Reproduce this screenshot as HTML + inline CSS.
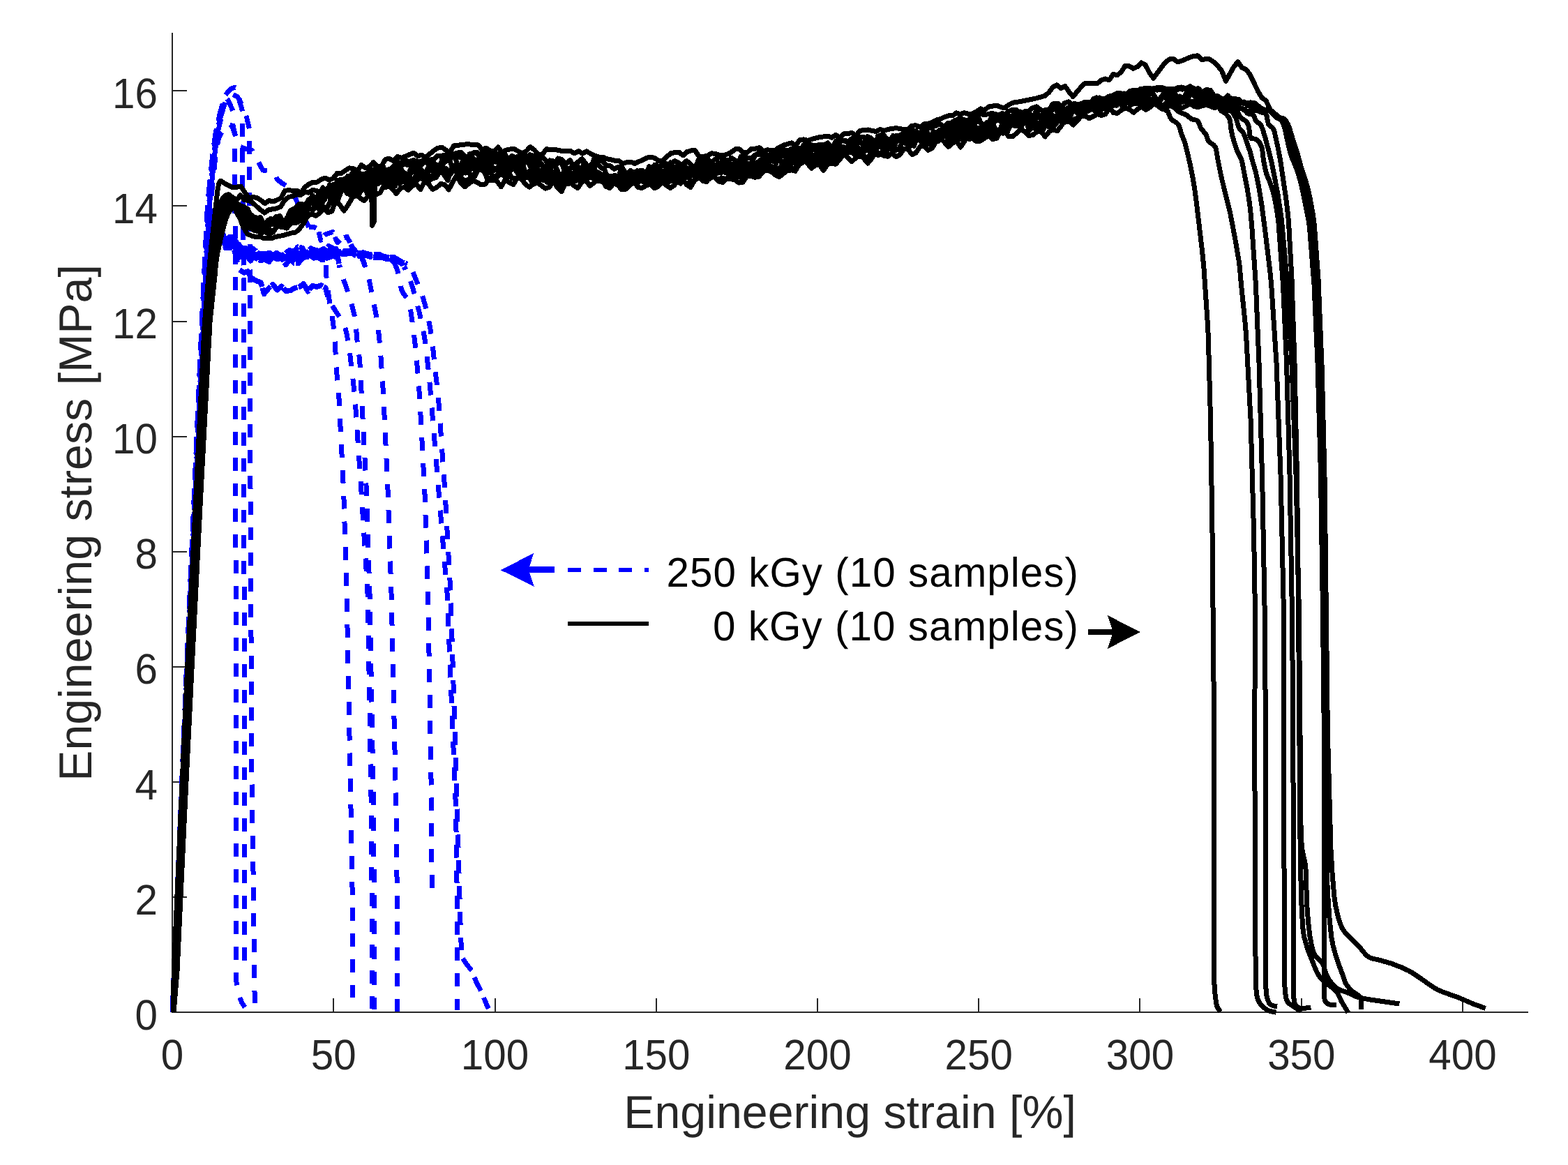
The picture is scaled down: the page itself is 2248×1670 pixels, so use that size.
<!DOCTYPE html>
<html lang="en"><head><meta charset="utf-8"><title>Engineering stress vs. engineering strain</title>
<style>html,body{margin:0;padding:0;background:#fff}body{width:2248px;height:1670px;overflow:hidden}svg{shape-rendering:crispEdges;text-rendering:geometricPrecision}</style>
</head><body>
<svg width="2248" height="1670" viewBox="0 0 2248 1670" style="display:block">
<rect width="2248" height="1670" fill="#fff"/>
<g fill="#262626">
<rect x="246" y="47" width="2" height="1405"/>
<rect x="246" y="1450" width="1945" height="2"/>
<rect x="246" y="1431" width="2" height="20"/>
<rect x="477" y="1431" width="2" height="20"/>
<rect x="709" y="1431" width="2" height="20"/>
<rect x="940" y="1431" width="2" height="20"/>
<rect x="1171" y="1431" width="2" height="20"/>
<rect x="1402" y="1431" width="2" height="20"/>
<rect x="1633" y="1431" width="2" height="20"/>
<rect x="1865" y="1431" width="2" height="20"/>
<rect x="2096" y="1431" width="2" height="20"/>
<rect x="247" y="1450" width="21" height="2"/>
<rect x="247" y="1285" width="21" height="2"/>
<rect x="247" y="1120" width="21" height="2"/>
<rect x="247" y="955" width="21" height="2"/>
<rect x="247" y="790" width="21" height="2"/>
<rect x="247" y="625" width="21" height="2"/>
<rect x="247" y="460" width="21" height="2"/>
<rect x="247" y="294" width="21" height="2"/>
<rect x="247" y="129" width="21" height="2"/>
</g>
<g fill="none" stroke="#0000ff" stroke-width="7" stroke-linejoin="round" stroke-linecap="butt" stroke-dasharray="18.9 18.0">
<path stroke-dashoffset="12.0" d="M247.0 1451.0 L268.1 956.0 L290.5 460.7 L298.9 293.6 L309.5 192.0 L315.0 165.0 L320.0 148.0 L324.5 140.5 L327.8 144.8 L334.5 160.5 L333.5 177.5 L338.0 196.8 L336.3 214.0 L337.7 400.0 L338.5 1400.0 L339.5 1415.0 L343.0 1428.0 L346.3 1436.4 L351.0 1444.0"/>
<path stroke-dashoffset="9.8" d="M247.0 1451.0 L267.5 956.0 L289.3 460.7 L297.5 293.6 L304.8 221.0 L309.0 190.8 L315.7 160.5 L323.0 136.3 L330.8 127.3 L337.0 125.3 L341.7 128.0 L343.5 136.0 L343.0 143.6 L349.0 164.0 L347.2 178.7 L347.2 235.0 L349.7 400.0 L350.4 1377.0"/>
<path stroke-dashoffset="2.8" d="M247.0 1451.0 L268.7 956.0 L291.7 460.7 L300.3 293.6 L307.8 221.0 L311.5 192.0 L317.0 166.0 L322.0 149.0 L327.0 138.5 L332.0 134.5 L340.5 138.7 L347.0 150.0 L353.8 169.0 L358.0 187.0 L357.5 205.0 L357.5 262.0 L358.7 400.0 L359.0 700.0 L361.0 1124.0 L362.9 1240.0 L365.2 1437.7"/>
<path stroke-dashoffset="9.0" d="M247.0 1451.0 L269.3 956.0 L292.9 460.7 L301.7 293.6 L309.3 221.0 L313.0 200.0 L317.5 190.0 L321.0 187.0 L328.4 177.5 L333.0 181.0 L341.7 209.0 L352.6 213.8 L361.0 215.0 L376.8 244.0 L385.0 245.0 L392.6 246.5 L397.4 257.3 L405.0 263.0 L413.0 268.2 L424.0 285.0 L434.0 308.0 L442.8 325.6"/>
<path stroke-dashoffset="21.4" d="M584.0 377.0 L587.7 381.1 L589.8 384.5 L603.5 418.6 L606.8 428.1 L609.4 436.8 L613.5 453.8 L616.9 470.9 L620.4 496.5 L623.9 530.7 L627.2 557.6 L628.8 575.2 L638.0 705.0 L646.0 850.0 L655.3 1151.9 L660.4 1337.1 L661.5 1362.0"/>
<path stroke-dashoffset="6.2" d="M247.0 1451.0 L269.5 956.0 L293.3 460.7 L300.3 330.0 L304.3 318.0 L309.3 322.0 L314.3 333.0 L324.3 358.0"/>
<path stroke-dashoffset="25.4" d="M466.7 368.3 L467.7 393.2 L469.3 410.9 L473.0 436.0 L477.4 461.9 L479.5 480.3 L483.2 539.9 L484.3 552.0 L485.0 555.9 L485.8 567.4 L492.7 705.0 L497.2 858.1 L503.2 1168.5 L505.5 1300.0 L505.9 1430.7"/>
<path stroke-dashoffset="32.8" d="M247.0 1451.0 L270.3 956.0 L294.9 460.7 L302.1 330.0 L306.1 318.0 L311.1 322.0 L316.1 333.0 L336.0 360.0 L343.4 387.0"/>
<path stroke-dashoffset="22.3" d="M470.0 425.0 L475.2 436.7 L489.7 458.9 L492.0 462.7 L494.0 467.4 L495.8 473.3 L497.3 479.9 L501.2 503.4 L507.6 557.6 L509.2 575.2 L518.0 705.0 L526.6 841.3 L527.3 858.1 L532.3 1160.0 L534.0 1447.0"/>
<path stroke-dashoffset="11.1" d="M247.0 1451.0 L269.9 956.0 L294.1 460.7 L301.2 330.0 L305.2 318.0 L310.2 322.0 L315.2 333.0 L325.2 358.0"/>
<path stroke-dashoffset="19.4" d="M487.2 383.7 L490.6 395.7 L496.8 412.6 L504.1 436.1 L506.5 445.0 L508.5 453.8 L509.8 462.3 L512.0 487.9 L515.3 513.3 L516.8 531.3 L518.0 559.7 L525.0 695.9 L530.0 850.0 L535.4 1152.0 L536.5 1300.0 L537.0 1447.0"/>
<path stroke-dashoffset="19.2" d="M247.0 1451.0 L270.7 956.0 L295.7 460.7 L303.0 330.0 L307.0 318.0 L312.0 322.0 L317.0 333.0 L327.0 358.0"/>
<path stroke-dashoffset="15.9" d="M523.0 380.3 L526.0 387.8 L527.3 392.3 L530.1 405.3 L538.6 448.2 L541.5 465.8 L543.5 482.8 L545.2 500.2 L549.5 563.1 L555.8 696.1 L561.0 850.0 L567.9 1160.0 L569.5 1300.0 L570.0 1450.0"/>
<path stroke-dashoffset="6.1" d="M247.0 1451.0 L271.1 956.0 L296.5 460.7 L303.9 330.0 L307.9 318.0 L312.9 322.0 L317.9 333.0 L327.9 358.0"/>
<path stroke-dashoffset="0.6" d="M565.0 375.0 L569.4 386.8 L571.0 392.0 L574.4 410.5 L576.0 416.2 L578.3 420.7 L584.0 428.2 L586.3 433.3 L588.0 439.9 L592.6 472.2 L595.7 498.2 L599.1 535.8 L601.7 570.0 L608.9 705.0 L613.6 850.0 L618.6 1151.8 L619.2 1274.0"/>
<path stroke-dashoffset="26.6" d="M247.0 1451.0 L271.5 956.0 L297.4 460.7 L304.8 330.0 L308.8 318.0 L313.8 322.0 L318.8 333.0 L328.8 358.0"/>
<path stroke-dashoffset="17.3" d="M581.0 385.0 L587.3 399.6 L589.7 406.0 L594.2 421.4 L601.0 446.9 L606.4 471.6 L609.3 488.0 L610.5 496.6 L614.5 532.8 L617.0 559.7 L641.0 850.0 L653.6 1160.0 L655.5 1300.0 L656.0 1448.0"/>
<path stroke-dashoffset="5.0" d="M247.0 1451.0 L267.5 956.0 L289.3 460.7 L297.5 293.6 L304.8 221.0 L309.0 190.8 L315.7 160.5 L323.0 136.3 L330.8 127.3"/>
<path stroke-dashoffset="11.1" d="M247.0 1451.0 L267.9 956.0 L290.1 460.7 L298.4 293.6 L305.8 221.0 L309.8 191.0 L316.0 163.0 L322.5 142.0"/>
<path stroke-dashoffset="17.3" d="M247.0 1451.0 L268.3 956.0 L290.9 460.7 L299.4 293.6 L306.8 221.0 L310.5 192.0 L316.5 166.0 L321.0 150.0"/>
<path stroke-dashoffset="23.4" d="M247.0 1451.0 L268.7 956.0 L291.7 460.7 L300.3 293.6 L307.8 221.0 L311.5 192.0 L317.0 170.0"/>
<path stroke-dashoffset="29.6" d="M247.0 1451.0 L269.1 956.0 L292.5 460.7 L300.9 300.0"/>
<path stroke-dashoffset="35.8" d="M247.0 1451.0 L269.5 956.0 L293.3 460.7 L300.3 330.0"/>
</g>
<g fill="none" stroke="#0000ff" stroke-width="7" stroke-linejoin="round" stroke-linecap="butt" stroke-dasharray="14 7">
<path stroke-dashoffset="3.0" d="M442.8 325.6 L449.0 325.0 L456.4 329.0 L459.8 344.4 L466.7 335.9 L477.0 332.5 L483.8 347.8 L490.0 342.0 L497.4 339.3 L503.0 350.0"/>
</g>
<g fill="none" stroke="#0000ff" stroke-width="7" stroke-linejoin="round" stroke-linecap="butt" stroke-dasharray="21.5 10.5">
<path stroke-dashoffset="0.0" d="M663.5 1374.0 L670.0 1383.5 L676.8 1392.0 L683.0 1408.0 L689.0 1419.4 L700.2 1446.0"/>
</g>
<g fill="none" stroke="#0000ff" stroke-width="7.6" stroke-linejoin="round" stroke-linecap="butt" stroke-dasharray="23 1.6">
<path stroke-dashoffset="8.4" d="M503.0 350.0 L507.6 359.9 L514.0 363.6 L520.4 362.1 L533.1 365.6 L539.4 365.0 L545.8 369.7 L552.2 368.6 L558.5 368.4 L564.9 368.9 L577.6 376.6 L584.0 378.4"/>
<path stroke-dashoffset="15.3" d="M324.3 358.0 L328.9 340.0 L334.9 346.3 L341.0 348.1 L347.1 359.3 L353.1 364.6 L359.2 373.8 L365.2 365.9 L371.3 368.9 L377.3 365.4 L383.4 366.2 L389.4 365.1 L395.5 370.4 L401.5 366.1 L407.6 369.6 L413.6 365.4 L419.7 364.3 L425.7 361.5 L431.8 369.3 L443.9 362.8 L450.0 369.9 L456.0 367.6 L462.1 364.0 L466.7 368.3"/>
<path stroke-dashoffset="2.1" d="M343.4 387.0 L350.0 391.0 L355.0 389.0 L360.0 398.0 L366.0 402.0 L374.0 405.0 L378.6 421.3 L384.9 413.5 L391.2 407.9 L397.5 415.6 L403.8 410.4 L410.1 417.1 L416.4 416.4 L422.7 412.8 L428.9 411.6 L435.2 406.7 L441.5 417.8 L447.8 409.6 L454.1 411.1 L460.4 409.1 L466.7 412.6 L470.0 425.0"/>
<path stroke-dashoffset="7.4" d="M325.2 358.0 L329.8 341.0 L335.9 343.0 L342.0 355.0 L348.1 355.3 L354.1 357.1 L360.2 354.9 L366.3 359.4 L372.4 365.9 L378.5 366.7 L384.6 363.5 L390.7 366.5 L396.7 362.4 L402.8 367.4 L408.9 363.6 L415.0 358.8 L421.1 360.9 L427.2 354.0 L433.3 355.5 L439.3 365.2 L445.4 356.1 L451.5 358.5 L457.6 359.7 L463.7 356.9 L469.8 367.2 L475.9 358.5 L481.9 356.9 L487.2 383.7"/>
<path stroke-dashoffset="13.9" d="M327.0 358.0 L331.6 342.7 L343.7 368.7 L349.7 357.1 L355.7 363.4 L361.7 367.6 L373.7 373.6 L379.7 371.5 L385.7 375.3 L391.8 366.4 L397.8 371.7 L403.8 369.5 L409.8 379.5 L415.8 371.0 L421.8 377.0 L427.8 377.4 L433.8 368.2 L439.9 368.6 L445.9 366.3 L451.9 367.4 L463.9 372.4 L469.9 369.5 L475.9 367.5 L481.9 364.2 L488.0 363.8 L494.0 364.7 L500.0 362.9 L506.0 363.6 L512.0 367.9 L518.0 366.5 L523.0 380.3"/>
<path stroke-dashoffset="22.3" d="M327.9 358.0 L332.5 339.5 L338.6 346.2 L344.6 359.7 L350.6 355.7 L356.6 361.2 L362.7 363.0 L368.7 366.0 L374.7 363.5 L380.7 363.8 L386.8 362.7 L392.8 368.9 L398.8 367.7 L404.8 368.3 L410.9 368.3 L416.9 362.6 L422.9 360.4 L428.9 364.9 L435.0 359.5 L441.0 367.2 L453.0 360.1 L459.1 359.6 L465.1 366.2 L471.1 352.9 L477.1 355.9 L483.2 361.3 L489.2 361.2 L495.2 359.7 L501.2 359.7 L507.3 357.2 L513.3 364.7 L525.3 363.9 L531.4 366.9 L537.4 366.6 L543.4 364.4 L549.4 367.6 L555.5 368.7 L561.5 371.9 L565.0 375.0"/>
<path stroke-dashoffset="16.4" d="M328.8 358.0 L333.5 347.6 L339.6 355.7 L345.7 357.4 L351.8 355.6 L357.9 370.1 L364.0 367.6 L370.1 369.0 L376.2 371.0 L382.3 368.7 L388.4 369.0 L394.5 367.9 L400.6 368.0 L406.7 370.2 L412.8 370.2 L418.9 363.0 L425.0 369.1 L431.1 372.3 L437.3 368.4 L443.4 362.5 L449.5 359.2 L455.6 369.2 L461.7 372.4 L467.8 366.6 L473.9 363.3 L480.0 367.9 L486.1 362.9 L492.2 362.4 L498.3 363.0 L504.4 362.2 L516.6 363.0 L522.7 365.7 L534.9 369.2 L541.1 369.7 L547.2 369.0 L553.3 371.0 L559.4 371.4 L565.5 376.0 L571.6 374.9 L577.7 379.3 L581.0 385.0"/>
</g>
<g fill="none" stroke="#000" stroke-width="7" stroke-linejoin="round" stroke-linecap="butt">
<path d="M248.7 1451.0 L261.1 1178.5 L271.7 955.6 L296.5 466.5 L297.4 453.9 L305.2 370.8 L311.0 330.0 L314.5 310.8 L316.1 305.1 L317.7 301.3 L319.3 298.6 L324.2 291.8 L328.0 289.3 L331.2 288.5 L342.7 301.2 L348.5 303.2 L354.2 313.4 L360.0 317.2 L365.8 314.5 L371.5 321.0 L377.3 321.5 L383.1 317.7 L388.8 315.4 L394.6 319.0 L400.4 317.3 L406.1 319.5 L417.7 303.4 L423.4 300.9 L429.2 292.2 L435.0 293.0 L440.7 295.6 L446.5 289.8 L452.2 285.5 L458.0 290.2 L463.8 285.4 L469.5 279.1 L475.3 287.7 L481.1 262.9 L486.8 258.7 L492.6 264.4 L498.4 252.6 L504.1 258.5 L509.9 252.7 L515.7 268.4 L521.4 262.5 L527.2 255.1 L533.0 270.3 L538.7 249.2 L544.5 261.1 L550.3 260.2 L556.0 253.0 L561.8 240.7 L567.6 247.7 L573.3 263.6 L579.1 254.9 L584.9 257.6 L590.6 243.6 L596.4 247.9 L602.1 239.2 L607.9 252.5 L613.7 240.1 L619.4 228.6 L625.2 254.4 L631.0 245.7 L636.7 232.6 L642.5 229.9 L648.3 220.8 L654.0 226.3 L665.6 224.7 L671.3 234.6 L677.1 235.2 L682.9 238.8 L688.6 235.6 L694.4 237.5 L700.2 243.2 L705.9 221.2 L711.7 228.2 L717.5 229.1 L723.2 248.1 L729.0 249.5 L734.7 229.2 L740.5 232.4 L746.3 247.9 L752.0 231.4 L757.8 234.0 L763.6 245.4 L769.3 233.9 L775.1 257.8 L780.9 238.5 L786.6 239.7 L792.4 230.5 L798.2 242.1 L803.9 256.3 L809.7 244.2 L815.5 242.0 L821.2 239.1 L827.0 243.2 L832.8 240.1 L838.5 239.1 L844.3 253.4 L855.8 249.6 L861.6 249.6 L867.4 254.7 L873.1 252.4 L878.9 262.4 L884.6 264.4 L890.4 253.4 L896.2 247.9 L901.9 261.1 L907.7 250.8 L913.5 244.6 L919.2 250.4 L925.0 251.0 L930.8 238.6 L936.5 240.8 L942.3 246.0 L948.1 255.0 L953.8 251.3 L959.6 255.3 L965.4 260.3 L971.1 256.0 L976.9 244.2 L982.7 252.2 L988.4 256.1 L994.2 239.9 L1000.0 236.5 L1005.7 237.2 L1011.5 229.1 L1017.3 236.5 L1023.0 237.3 L1028.8 235.1 L1034.5 245.6 L1040.3 247.5 L1046.1 235.1 L1057.6 253.8 L1063.4 246.3 L1069.1 249.0 L1074.9 249.5 L1080.7 240.2 L1086.4 244.3 L1092.2 240.6 L1098.0 238.9 L1103.7 239.0 L1109.5 242.6 L1115.3 228.1 L1121.0 217.2 L1126.8 220.2 L1132.6 227.6 L1138.3 234.0 L1144.1 231.7 L1149.9 224.8 L1155.6 222.8 L1161.4 229.2 L1167.1 223.5 L1172.9 219.1 L1178.7 230.9 L1184.4 211.3 L1190.2 223.3 L1196.0 228.7 L1201.7 220.3 L1207.5 217.3 L1224.8 218.7 L1230.6 212.0 L1236.3 222.6 L1242.1 203.2 L1247.9 208.5 L1253.6 220.3 L1259.4 207.3 L1265.2 204.8 L1270.9 204.5 L1276.7 206.4 L1282.5 204.3 L1288.2 198.7 L1294.0 197.8 L1299.8 204.6 L1305.5 200.2 L1311.3 198.8 L1317.0 191.6 L1322.8 189.7 L1328.6 188.9 L1334.3 196.5 L1340.1 192.6 L1345.9 187.2 L1357.4 181.7 L1368.9 172.4 L1374.7 189.9 L1380.5 171.0 L1386.2 178.7 L1392.0 167.9 L1397.8 167.4 L1403.5 169.8 L1409.3 183.8 L1415.1 182.1 L1420.8 187.6 L1426.6 172.3 L1432.4 172.1 L1438.1 176.3 L1443.9 183.7 L1455.4 169.6 L1461.2 173.0 L1466.9 172.9 L1472.7 168.5 L1478.5 178.2 L1484.2 184.8 L1490.0 183.0 L1495.8 160.5 L1501.5 163.2 L1513.1 166.7 L1518.8 164.9 L1524.6 170.9 L1530.4 155.6 L1536.1 153.7 L1541.9 150.7 L1547.7 153.1 L1553.4 154.6 L1559.2 153.3 L1565.0 154.5 L1570.7 146.1 L1576.5 140.1 L1582.3 144.5 L1588.0 142.8 L1593.8 139.6 L1605.3 139.3 L1611.1 142.1 L1616.8 141.6 L1622.6 134.5 L1628.4 134.1 L1634.1 132.4 L1639.9 136.5 L1645.7 126.8 L1651.4 131.9 L1657.2 142.2 L1663.0 148.1 L1668.7 156.2 L1674.5 160.0 L1677.7 168.1 L1679.4 170.8 L1681.6 172.7 L1686.8 175.8 L1689.0 178.0 L1690.6 181.2 L1694.0 192.6 L1697.4 200.9 L1698.7 204.7 L1701.8 216.5 L1705.9 234.1 L1710.1 255.3 L1712.6 270.1 L1715.3 289.9 L1723.5 359.3 L1725.9 383.3 L1731.5 466.4 L1732.3 482.7 L1735.5 600.0 L1737.9 752.1 L1740.7 1050.0 L1740.7 1406.0 L1741.6 1421.9 L1743.7 1438.3 L1744.5 1441.6 L1745.7 1444.5 L1749.6 1450.5"/>
<path d="M248.6 1451.0 L250.6 1385.8 L270.1 961.9 L295.0 466.6 L295.9 453.8 L303.5 370.2 L307.0 340.1 L310.3 316.3 L311.9 307.5 L313.4 301.6 L315.0 297.8 L316.5 295.2 L321.5 288.5 L325.2 286.0 L328.4 285.2 L334.2 293.1 L339.9 306.0 L345.7 316.4 L351.5 318.9 L357.2 320.2 L363.0 329.8 L368.8 331.3 L374.6 333.6 L380.3 332.4 L386.1 335.6 L391.9 332.5 L397.6 322.8 L403.4 325.9 L409.2 319.6 L414.9 310.3 L420.7 319.6 L426.5 318.9 L432.2 313.6 L443.8 298.7 L449.6 300.5 L455.3 293.4 L461.1 293.8 L466.9 280.7 L472.6 264.8 L478.4 269.4 L484.2 258.3 L489.9 257.5 L495.7 259.2 L501.5 279.2 L507.3 265.7 L513.0 270.2 L518.8 253.9 L524.6 249.5 L530.3 250.1 L536.1 256.2 L541.9 240.3 L547.6 245.2 L553.4 246.9 L559.2 253.9 L564.9 252.9 L570.7 258.3 L576.5 255.7 L582.3 255.9 L588.0 257.1 L593.8 256.7 L599.6 253.9 L605.3 252.4 L611.1 252.9 L616.9 252.2 L622.6 251.1 L628.4 245.2 L634.2 247.7 L639.9 241.7 L645.7 249.9 L651.5 242.4 L657.3 251.1 L663.0 256.6 L668.8 259.8 L674.6 254.6 L680.3 253.5 L686.1 242.1 L691.9 244.7 L697.6 250.7 L703.4 235.9 L709.2 244.0 L714.9 238.4 L720.7 236.4 L726.5 228.1 L732.3 239.1 L738.0 238.6 L743.8 250.9 L749.6 252.1 L755.3 254.2 L761.1 254.4 L766.9 252.0 L772.6 258.1 L778.4 253.0 L784.2 261.4 L789.9 260.8 L795.7 259.4 L801.5 252.0 L807.3 248.3 L813.0 253.0 L818.8 261.6 L824.6 249.5 L830.3 250.4 L841.9 242.3 L847.6 252.8 L853.4 258.7 L859.2 257.5 L865.0 261.8 L870.7 259.9 L876.5 263.8 L882.3 261.1 L893.8 267.5 L899.6 263.4 L905.3 263.8 L911.1 251.2 L916.9 252.2 L922.6 260.9 L928.4 254.8 L934.2 261.0 L940.0 264.8 L945.7 264.3 L951.5 260.4 L957.3 253.6 L974.6 241.6 L980.3 234.3 L986.1 245.1 L991.9 238.3 L997.6 239.9 L1003.4 255.3 L1009.2 241.4 L1015.0 249.8 L1020.7 239.5 L1026.5 241.8 L1038.0 228.4 L1043.8 230.0 L1049.6 249.9 L1055.3 245.6 L1061.1 248.1 L1072.6 246.4 L1078.4 237.1 L1084.2 234.8 L1090.0 241.6 L1095.7 226.4 L1101.5 235.6 L1107.3 239.2 L1113.0 244.1 L1118.8 239.4 L1124.6 243.8 L1130.3 225.8 L1136.1 221.0 L1141.9 237.5 L1147.6 228.2 L1153.4 228.5 L1159.2 233.8 L1165.0 235.4 L1170.7 227.6 L1176.5 227.5 L1182.3 221.3 L1188.0 230.1 L1193.8 212.6 L1199.6 213.9 L1205.3 219.2 L1211.1 211.1 L1216.9 215.0 L1228.4 224.0 L1234.2 219.5 L1240.0 228.1 L1245.7 223.7 L1251.5 222.3 L1257.3 206.4 L1263.0 198.3 L1268.8 205.3 L1274.6 206.4 L1280.3 194.5 L1286.1 198.9 L1291.9 193.0 L1297.7 199.0 L1303.4 199.2 L1309.2 189.5 L1315.0 199.3 L1320.7 194.2 L1326.5 194.6 L1332.3 207.0 L1338.0 188.4 L1343.8 197.3 L1349.6 188.4 L1355.3 190.6 L1361.1 196.5 L1366.9 195.7 L1372.7 184.2 L1378.4 194.9 L1384.2 188.0 L1390.0 199.6 L1395.7 196.0 L1401.5 198.8 L1407.3 196.4 L1413.0 190.1 L1418.8 194.7 L1424.6 189.6 L1430.3 187.9 L1436.1 187.2 L1441.9 178.9 L1447.7 174.2 L1453.4 163.9 L1459.2 159.8 L1465.0 171.2 L1470.7 165.9 L1476.5 163.7 L1482.3 172.4 L1488.0 177.4 L1493.8 180.4 L1499.6 181.1 L1505.3 168.9 L1511.1 173.8 L1516.9 169.3 L1522.7 173.3 L1528.4 173.1 L1534.2 153.3 L1540.0 148.6 L1545.7 149.6 L1551.5 152.9 L1557.3 159.3 L1563.0 148.8 L1568.8 158.2 L1574.6 153.8 L1580.4 149.0 L1586.1 157.3 L1591.9 153.8 L1597.7 142.7 L1603.4 141.1 L1609.2 153.6 L1615.0 141.4 L1620.7 150.6 L1626.5 148.2 L1632.3 148.4 L1638.0 151.1 L1643.8 140.9 L1649.6 143.1 L1655.4 140.5 L1661.1 149.1 L1666.9 151.2 L1672.7 147.2 L1678.4 151.7 L1684.2 155.0 L1689.3 159.5 L1691.5 161.0 L1701.0 164.8 L1708.4 170.8 L1710.6 171.5 L1715.1 172.2 L1717.0 173.3 L1718.4 175.4 L1721.7 184.0 L1729.0 192.6 L1730.0 195.0 L1731.4 199.9 L1732.6 202.3 L1734.7 204.3 L1740.2 208.0 L1742.3 210.8 L1743.6 214.5 L1746.0 229.0 L1750.8 253.0 L1763.8 305.8 L1771.3 345.5 L1776.0 373.0 L1777.3 382.8 L1779.4 406.9 L1785.5 466.4 L1786.7 482.7 L1793.0 600.0 L1797.5 760.0 L1799.5 880.0 L1798.7 1057.9 L1800.1 1393.3 L1800.6 1414.9 L1801.7 1426.3 L1802.6 1430.4 L1803.7 1433.7 L1806.8 1439.0 L1808.9 1441.6 L1811.4 1444.1 L1817.0 1448.0 L1820.3 1449.3 L1829.7 1451.3"/>
<path d="M248.8 1451.0 L252.0 1392.2 L261.9 1178.5 L272.6 955.6 L297.6 466.5 L298.6 453.9 L304.4 395.9 L306.6 371.3 L310.8 343.2 L314.8 321.5 L316.6 313.3 L318.2 307.7 L319.8 303.9 L321.3 301.2 L326.2 294.3 L329.9 291.8 L333.0 291.0 L338.8 295.1 L344.6 296.5 L350.3 296.3 L356.1 305.7 L361.8 309.1 L367.6 316.5 L373.4 311.4 L379.1 322.8 L384.9 318.3 L390.7 321.6 L396.4 310.2 L402.2 323.1 L408.0 316.3 L413.7 317.8 L419.5 317.0 L425.3 295.7 L431.0 298.2 L436.8 295.5 L442.5 286.2 L448.3 283.5 L454.1 281.7 L459.8 285.4 L465.6 273.7 L471.4 268.2 L477.1 286.3 L482.9 272.9 L488.7 274.3 L494.4 266.3 L500.2 255.7 L506.0 265.3 L511.7 278.0 L517.5 268.6 L523.2 265.6 L531.9 242.9 L533.8 323.2 L536.1 318.2 L537.9 241.2 L540.5 241.2 L546.3 252.3 L552.1 261.7 L557.8 242.6 L563.6 242.5 L569.4 249.1 L575.1 238.7 L580.9 229.8 L586.7 231.7 L592.4 229.6 L598.2 230.9 L603.9 236.5 L609.7 230.0 L615.5 229.7 L621.2 236.5 L627.0 241.8 L632.8 237.5 L638.5 247.3 L644.3 247.6 L650.1 241.3 L655.8 239.0 L661.6 245.0 L667.4 248.0 L673.1 220.6 L678.9 219.7 L684.6 219.8 L690.4 236.6 L696.2 231.5 L701.9 242.0 L707.7 230.1 L713.5 232.8 L719.2 235.0 L725.0 253.5 L730.8 229.3 L736.5 227.4 L742.3 227.4 L748.1 230.1 L753.8 250.0 L759.6 245.5 L765.3 238.2 L771.1 229.2 L776.9 236.6 L782.6 253.6 L788.4 229.9 L794.2 238.2 L799.9 227.0 L805.7 228.7 L811.5 235.4 L817.2 229.7 L823.0 240.4 L828.8 258.3 L834.5 251.0 L840.3 245.5 L846.0 254.6 L851.8 249.6 L857.6 246.9 L863.3 251.0 L869.1 253.0 L874.9 252.3 L880.6 252.5 L886.4 254.1 L892.2 257.6 L903.7 256.9 L909.5 246.3 L915.2 248.9 L921.0 244.5 L926.7 251.8 L932.5 241.5 L938.3 241.5 L944.0 247.8 L949.8 246.0 L955.6 243.7 L961.3 232.9 L967.1 245.7 L972.9 242.0 L978.6 245.9 L984.4 253.3 L990.2 239.9 L995.9 253.1 L1001.7 243.3 L1007.4 232.0 L1013.2 224.4 L1019.0 236.6 L1024.7 241.5 L1030.5 245.7 L1042.0 234.5 L1047.8 235.8 L1053.6 241.4 L1059.3 238.3 L1065.1 242.4 L1070.9 239.9 L1076.6 238.3 L1082.4 242.1 L1088.1 237.0 L1093.9 238.0 L1099.7 223.7 L1105.4 221.2 L1111.2 221.6 L1117.0 228.3 L1122.7 214.6 L1134.3 216.3 L1140.0 227.6 L1145.8 216.6 L1151.6 221.2 L1157.3 208.2 L1163.1 215.9 L1168.8 213.5 L1174.6 233.2 L1180.4 216.0 L1186.1 224.5 L1191.9 209.8 L1197.7 207.6 L1203.4 211.5 L1209.2 210.4 L1215.0 216.0 L1220.7 201.8 L1226.5 219.3 L1232.3 224.8 L1238.0 217.2 L1243.8 214.9 L1249.5 208.8 L1255.3 208.8 L1261.1 200.4 L1266.8 205.0 L1272.6 199.1 L1278.4 200.7 L1284.1 199.0 L1289.9 202.2 L1295.7 191.9 L1301.4 202.4 L1307.2 205.7 L1313.0 196.9 L1318.7 190.5 L1324.5 185.6 L1336.0 182.7 L1347.5 177.4 L1353.3 181.5 L1359.1 180.5 L1364.8 191.2 L1370.6 172.2 L1376.4 168.7 L1382.1 177.1 L1387.9 177.4 L1399.4 166.2 L1405.2 163.1 L1410.9 164.9 L1422.5 162.4 L1428.2 163.8 L1434.0 168.2 L1439.8 166.5 L1445.5 159.7 L1451.3 157.5 L1457.1 157.4 L1462.8 167.1 L1468.6 160.0 L1474.4 159.4 L1480.1 154.8 L1485.9 152.9 L1497.4 161.2 L1503.2 159.6 L1508.9 149.0 L1514.7 148.3 L1520.5 154.9 L1526.2 147.7 L1532.0 145.9 L1537.8 151.2 L1543.5 153.9 L1549.3 148.7 L1555.1 152.7 L1560.8 155.0 L1566.6 143.3 L1572.3 139.8 L1578.1 142.0 L1583.9 141.6 L1589.6 138.3 L1595.4 136.8 L1601.2 133.8 L1606.9 133.9 L1612.7 136.2 L1618.5 143.3 L1624.2 135.4 L1630.0 140.6 L1635.8 133.0 L1641.5 138.5 L1647.3 130.6 L1653.0 126.8 L1658.8 129.2 L1664.6 126.6 L1670.3 130.0 L1676.1 129.6 L1681.9 128.2 L1687.6 129.1 L1693.4 125.0 L1699.2 126.6 L1704.9 125.6 L1710.7 126.3 L1716.5 132.7 L1722.2 133.7 L1728.0 129.1 L1739.5 145.2 L1745.3 150.2 L1751.0 159.1 L1756.8 162.4 L1761.5 167.9 L1762.9 170.8 L1763.7 174.5 L1765.3 187.8 L1767.0 195.2 L1770.1 206.0 L1773.8 216.8 L1778.4 225.6 L1779.8 229.0 L1780.9 232.9 L1788.3 271.3 L1791.2 289.4 L1792.7 301.2 L1795.1 328.9 L1800.4 408.2 L1805.0 520.0 L1809.7 688.2 L1813.4 888.5 L1814.4 1050.0 L1814.3 1398.8 L1814.6 1412.1 L1815.7 1426.3 L1817.4 1433.1 L1819.5 1437.8 L1820.7 1439.3 L1823.2 1441.0 L1826.3 1442.1 L1831.0 1442.9"/>
<path d="M249.0 1451.0 L253.2 1392.2 L263.3 1178.5 L274.2 955.6 L286.9 707.9 L300.0 460.2 L306.6 396.5 L308.8 372.0 L311.5 355.7 L318.0 325.1 L321.6 312.0 L324.6 305.5 L329.4 298.4 L333.1 295.9 L336.3 295.1 L342.0 304.5 L347.8 301.1 L353.6 298.9 L359.3 313.6 L365.1 323.3 L370.9 327.1 L376.6 328.9 L382.4 322.7 L388.2 313.5 L393.9 320.2 L399.7 319.8 L405.5 325.1 L411.2 327.2 L417.0 320.3 L422.8 305.8 L428.5 312.5 L434.3 294.1 L440.1 300.2 L445.8 287.0 L451.6 296.0 L457.4 299.8 L463.1 295.8 L468.9 298.8 L474.7 285.9 L480.4 283.6 L486.2 258.9 L492.0 268.6 L497.7 277.5 L503.5 275.8 L509.3 278.0 L515.0 268.1 L520.8 263.2 L526.6 278.1 L532.3 261.9 L538.1 261.9 L543.9 249.9 L549.6 261.7 L555.4 259.8 L561.2 263.4 L566.9 266.3 L572.7 246.3 L578.5 250.0 L584.2 255.0 L590.0 259.0 L595.8 261.2 L601.5 255.1 L613.1 260.5 L618.8 256.7 L624.6 254.3 L630.4 237.9 L636.2 249.6 L641.9 258.8 L647.7 240.4 L653.5 244.7 L659.2 252.2 L665.0 241.5 L670.8 240.6 L676.5 258.2 L682.3 244.7 L688.1 236.1 L693.8 230.1 L699.6 238.4 L705.4 251.0 L711.1 253.7 L716.9 243.8 L722.7 251.8 L728.4 244.2 L734.2 256.0 L740.0 255.4 L745.7 252.5 L751.5 251.7 L757.3 251.6 L763.0 261.6 L768.8 254.3 L774.6 251.3 L780.3 249.0 L786.1 262.2 L791.9 254.9 L797.6 261.8 L803.4 264.8 L809.2 261.8 L814.9 263.3 L820.7 262.4 L826.5 257.6 L832.2 257.3 L838.0 258.4 L843.8 246.3 L849.5 254.6 L855.3 259.2 L866.8 259.5 L872.6 257.8 L878.4 259.1 L884.1 257.6 L889.9 262.5 L895.7 264.3 L901.4 260.6 L907.2 262.7 L913.0 263.5 L918.7 258.1 L924.5 258.0 L930.3 262.9 L936.0 263.2 L941.8 257.6 L947.6 257.5 L953.3 260.0 L959.1 245.3 L964.9 251.9 L970.6 257.4 L976.4 258.1 L982.2 262.1 L987.9 262.5 L999.5 256.1 L1011.0 254.3 L1016.8 256.7 L1022.5 253.0 L1028.3 257.6 L1034.1 255.6 L1051.4 257.2 L1057.1 254.2 L1062.9 239.6 L1068.7 237.0 L1074.4 249.2 L1080.2 245.7 L1086.0 247.3 L1091.8 242.3 L1097.5 244.6 L1103.3 245.1 L1109.1 239.5 L1114.8 245.3 L1120.6 246.6 L1126.4 241.1 L1132.1 244.6 L1137.9 241.8 L1143.7 237.0 L1149.4 233.9 L1155.2 230.2 L1161.0 224.9 L1166.7 229.9 L1172.5 224.3 L1178.3 215.2 L1184.0 229.4 L1189.8 230.1 L1195.6 221.1 L1201.3 225.4 L1207.1 224.4 L1218.6 207.1 L1224.4 214.1 L1230.2 205.2 L1235.9 204.5 L1241.7 215.6 L1247.5 197.1 L1253.2 213.6 L1259.0 210.7 L1264.8 210.2 L1270.5 217.5 L1276.3 203.0 L1287.8 194.9 L1293.6 203.7 L1299.4 206.2 L1305.1 191.0 L1310.9 191.3 L1316.7 194.5 L1322.4 196.6 L1328.2 189.9 L1334.0 206.0 L1339.7 193.0 L1345.5 188.7 L1351.3 189.7 L1357.0 193.5 L1362.8 190.4 L1368.6 186.0 L1374.3 199.6 L1380.1 199.7 L1385.9 188.6 L1391.6 191.5 L1397.4 191.7 L1403.2 191.2 L1408.9 187.7 L1414.7 175.6 L1420.5 175.1 L1426.2 183.1 L1432.0 190.5 L1437.8 175.1 L1443.5 180.9 L1449.3 178.6 L1455.1 180.1 L1460.8 177.7 L1466.6 187.7 L1472.4 189.9 L1478.1 184.7 L1483.9 175.9 L1489.7 183.9 L1495.4 180.5 L1501.2 180.9 L1507.0 183.5 L1512.7 179.3 L1518.5 171.3 L1524.3 176.1 L1530.0 174.2 L1535.8 172.8 L1541.6 170.1 L1547.4 169.5 L1553.1 160.4 L1558.9 159.8 L1564.7 156.6 L1570.4 147.9 L1576.2 154.9 L1582.0 154.2 L1587.7 146.8 L1593.5 152.8 L1599.3 149.9 L1605.0 148.1 L1610.8 151.7 L1616.6 138.2 L1622.3 141.9 L1628.1 147.6 L1633.9 147.7 L1639.6 150.7 L1645.4 152.0 L1651.2 146.3 L1656.9 147.6 L1662.7 141.8 L1668.5 133.5 L1674.2 145.0 L1680.0 139.4 L1685.8 148.9 L1691.5 138.1 L1697.3 144.4 L1703.1 143.8 L1708.8 147.4 L1714.6 147.7 L1720.4 150.1 L1726.1 150.1 L1731.9 149.2 L1737.7 144.6 L1743.4 144.0 L1749.2 153.5 L1760.7 158.1 L1766.5 160.0 L1771.1 167.7 L1772.6 170.8 L1775.2 180.3 L1776.2 183.0 L1777.6 185.0 L1780.8 188.2 L1782.3 190.2 L1783.6 192.8 L1792.0 216.8 L1796.8 235.0 L1799.4 243.3 L1801.5 252.1 L1805.3 271.3 L1809.0 294.7 L1813.5 328.5 L1821.0 390.7 L1822.7 408.2 L1830.0 520.0 L1836.0 680.0 L1840.5 880.0 L1841.0 1245.2 L1841.5 1399.1 L1841.8 1412.0 L1842.5 1422.2 L1843.6 1429.7 L1844.3 1432.3 L1846.2 1436.5 L1847.5 1438.1 L1849.0 1439.3 L1865.3 1449.7"/>
<path d="M248.5 1451.0 L250.2 1385.8 L269.4 961.9 L294.2 466.6 L302.6 369.8 L305.9 339.3 L309.0 315.1 L310.5 305.9 L312.1 299.4 L313.7 294.7 L319.3 284.1 L321.4 281.7 L324.2 279.6 L327.5 278.6 L339.0 286.6 L344.8 279.8 L350.5 286.9 L356.3 287.1 L362.0 290.1 L367.8 295.8 L373.6 300.9 L379.3 305.1 L385.1 300.8 L396.6 298.8 L402.4 296.2 L408.1 287.0 L413.9 282.5 L419.7 281.2 L425.4 278.8 L431.2 279.4 L437.0 275.6 L442.7 276.1 L448.5 272.1 L454.2 273.7 L460.0 281.5 L465.8 285.4 L471.5 269.3 L477.3 265.0 L483.1 279.0 L488.8 258.5 L494.6 256.0 L500.3 255.5 L506.1 253.6 L511.9 254.4 L517.6 252.9 L523.4 252.4 L529.2 259.0 L534.9 254.4 L540.7 254.0 L546.4 257.4 L552.2 268.0 L563.7 239.0 L569.5 232.4 L575.3 233.7 L581.0 235.7 L586.8 237.2 L592.5 232.7 L598.3 240.0 L604.1 232.8 L609.8 231.7 L621.3 235.1 L627.1 236.3 L632.9 244.3 L638.6 250.0 L644.4 245.3 L650.2 238.4 L655.9 235.5 L661.7 242.4 L667.4 242.3 L673.2 245.0 L679.0 233.8 L684.7 235.4 L690.5 233.5 L696.3 227.6 L702.0 220.5 L707.8 231.0 L713.5 233.0 L719.3 225.9 L725.1 222.6 L730.8 232.8 L736.6 225.7 L742.4 224.6 L748.1 240.3 L753.9 225.7 L759.6 221.7 L765.4 223.7 L771.2 227.8 L776.9 235.8 L782.7 245.3 L788.5 255.6 L794.2 247.6 L800.0 261.5 L805.7 260.5 L811.5 246.8 L817.3 252.8 L823.0 249.0 L828.8 232.0 L834.6 228.8 L840.3 240.3 L846.1 240.3 L851.8 239.4 L857.6 257.1 L863.4 255.6 L869.1 249.5 L874.9 257.8 L880.7 251.2 L886.4 252.9 L892.2 240.4 L903.7 257.5 L909.5 254.8 L915.2 254.4 L921.0 259.1 L926.7 262.5 L932.5 258.6 L938.3 261.7 L944.0 243.1 L949.8 235.6 L955.6 240.4 L961.3 259.3 L967.1 241.2 L972.8 234.9 L978.6 235.6 L984.4 230.5 L990.1 235.4 L995.9 242.5 L1001.7 228.5 L1007.4 235.3 L1013.2 238.6 L1018.9 249.2 L1024.7 237.2 L1030.5 233.6 L1036.2 242.3 L1042.0 230.4 L1047.8 235.9 L1053.5 251.9 L1065.0 226.3 L1070.8 225.8 L1076.6 227.4 L1082.3 222.1 L1093.9 221.6 L1099.6 221.6 L1105.4 231.1 L1111.1 220.0 L1116.9 229.3 L1122.7 236.3 L1128.4 223.8 L1134.2 213.5 L1140.0 211.0 L1145.7 212.2 L1151.5 214.8 L1157.2 214.9 L1163.0 213.0 L1168.8 214.9 L1174.5 210.3 L1180.3 214.7 L1186.1 205.6 L1191.8 210.1 L1197.6 208.7 L1203.3 211.7 L1209.1 210.7 L1214.9 213.6 L1220.6 212.6 L1226.4 202.0 L1232.1 217.6 L1237.9 213.1 L1243.7 195.6 L1255.2 202.9 L1261.0 201.8 L1266.7 212.9 L1272.5 215.1 L1278.2 203.0 L1284.0 194.7 L1289.8 194.4 L1295.5 193.6 L1301.3 201.5 L1307.1 197.2 L1312.8 187.3 L1318.6 200.3 L1324.3 190.5 L1330.1 197.6 L1335.9 203.3 L1341.6 191.7 L1347.4 195.8 L1353.2 184.2 L1358.9 176.2 L1364.7 177.3 L1370.4 186.0 L1376.2 183.2 L1382.0 177.6 L1387.7 173.1 L1393.5 165.8 L1399.3 185.1 L1405.0 186.2 L1410.8 188.5 L1416.5 189.0 L1422.3 166.5 L1428.1 172.6 L1433.8 164.1 L1439.6 170.7 L1445.4 181.2 L1451.1 171.7 L1456.9 175.1 L1462.6 160.0 L1468.4 165.3 L1474.2 180.2 L1479.9 175.0 L1485.7 157.0 L1491.4 170.3 L1497.2 157.9 L1503.0 157.4 L1508.7 152.4 L1520.3 155.7 L1526.0 165.2 L1531.8 164.5 L1537.5 160.2 L1543.3 153.4 L1549.1 149.2 L1554.8 152.3 L1560.6 146.3 L1566.4 147.4 L1572.1 152.7 L1577.9 147.2 L1583.6 148.6 L1589.4 139.7 L1595.2 146.3 L1600.9 151.3 L1606.7 142.6 L1612.5 137.0 L1618.2 140.3 L1624.0 132.8 L1629.7 136.4 L1635.5 127.3 L1647.0 126.3 L1652.8 127.6 L1664.3 128.4 L1670.1 127.8 L1675.8 137.9 L1681.6 127.4 L1687.4 140.7 L1693.1 141.8 L1698.9 143.6 L1704.7 138.8 L1710.4 130.5 L1716.2 133.6 L1721.9 135.4 L1727.7 139.3 L1733.5 144.1 L1739.2 147.5 L1745.0 137.5 L1750.8 140.8 L1756.5 148.5 L1762.3 150.1 L1768.0 154.8 L1773.8 158.7 L1777.0 166.0 L1778.6 168.4 L1780.6 170.1 L1785.1 172.9 L1787.0 174.5 L1788.3 176.3 L1789.2 178.2 L1790.7 183.0 L1792.0 194.6 L1793.0 197.5 L1794.7 198.8 L1799.4 199.1 L1801.6 200.0 L1805.6 204.4 L1807.4 207.4 L1808.9 210.8 L1809.8 214.8 L1811.3 229.0 L1814.0 242.9 L1816.1 250.3 L1819.8 259.0 L1824.4 272.7 L1826.9 281.8 L1828.6 290.5 L1831.3 306.4 L1833.0 320.0 L1839.5 408.2 L1844.5 520.0 L1849.0 680.0 L1852.6 888.5 L1853.8 1058.1 L1854.9 1399.6 L1854.7 1424.9 L1855.0 1431.4 L1855.6 1435.9 L1856.5 1439.0 L1857.6 1441.1 L1859.0 1442.9 L1860.8 1444.2 L1862.9 1445.0 L1867.8 1445.4 L1870.8 1445.3 L1879.3 1444.0"/>
<path d="M248.9 1451.0 L252.5 1392.2 L262.4 1178.5 L273.3 955.6 L298.4 466.5 L299.4 453.9 L305.3 396.1 L306.8 378.1 L308.5 364.1 L310.0 354.8 L314.0 333.0 L317.9 314.9 L319.6 309.4 L321.1 305.6 L322.6 302.9 L327.5 296.0 L331.2 293.5 L334.4 292.6 L340.2 301.6 L346.0 313.9 L351.7 322.3 L357.5 321.8 L363.3 318.2 L369.1 324.7 L374.9 328.4 L380.6 326.9 L386.4 323.8 L392.2 316.0 L398.0 321.9 L403.7 319.4 L415.3 320.9 L421.1 317.5 L426.9 307.9 L432.6 309.2 L438.4 307.7 L444.2 286.3 L450.0 288.4 L455.8 285.9 L461.5 280.4 L467.3 275.5 L473.1 273.0 L478.9 287.4 L484.6 286.8 L490.4 270.4 L496.2 274.7 L502.0 261.1 L507.8 254.2 L513.5 272.5 L519.3 268.7 L525.1 271.0 L530.9 268.8 L536.6 265.6 L542.4 263.4 L548.2 258.1 L554.0 268.3 L559.8 261.8 L565.5 261.5 L571.3 262.0 L577.1 256.6 L582.9 264.4 L588.6 259.9 L594.4 257.1 L600.2 237.1 L606.0 246.6 L611.8 250.8 L617.5 239.8 L623.3 251.2 L629.1 245.1 L634.9 224.5 L640.6 223.2 L646.4 226.7 L652.2 224.9 L658.0 242.6 L663.8 230.5 L669.5 242.8 L675.3 240.9 L681.1 242.9 L686.9 236.3 L692.7 243.5 L698.4 255.6 L704.2 259.0 L710.0 258.3 L715.8 249.9 L721.5 251.0 L727.3 255.8 L733.1 241.1 L738.9 243.1 L744.7 252.5 L750.4 257.5 L756.2 248.7 L762.0 247.1 L767.8 255.9 L773.5 249.7 L779.3 258.6 L785.1 238.3 L790.9 246.6 L796.7 246.7 L802.4 256.6 L808.2 259.2 L814.0 254.3 L819.8 255.0 L825.5 259.3 L831.3 246.8 L837.1 245.7 L842.9 253.7 L848.7 246.8 L854.4 247.7 L860.2 252.6 L866.0 260.4 L871.8 253.5 L877.5 264.4 L883.3 263.4 L889.1 248.9 L894.9 251.1 L900.7 262.0 L906.4 262.1 L912.2 253.8 L918.0 244.7 L923.8 248.7 L929.6 247.2 L935.3 241.2 L941.1 235.9 L946.9 252.3 L952.7 253.4 L958.4 239.5 L964.2 238.3 L970.0 255.8 L975.8 263.1 L981.6 246.9 L987.3 251.2 L993.1 247.6 L998.9 251.9 L1004.7 239.8 L1010.4 236.2 L1016.2 231.1 L1022.0 248.4 L1027.8 249.0 L1033.6 241.5 L1039.3 246.1 L1045.1 248.2 L1050.9 235.3 L1056.7 243.5 L1062.4 255.1 L1068.2 236.4 L1074.0 234.2 L1079.8 237.2 L1085.6 233.1 L1091.3 228.5 L1097.1 233.1 L1102.9 225.4 L1108.7 231.5 L1114.4 226.7 L1120.2 215.3 L1126.0 226.1 L1131.8 243.0 L1137.6 222.8 L1143.3 220.0 L1149.1 223.6 L1154.9 220.6 L1160.7 232.1 L1166.4 222.2 L1172.2 235.8 L1178.0 229.1 L1183.8 218.4 L1189.6 224.0 L1195.3 218.3 L1201.1 213.4 L1206.9 222.6 L1212.7 219.5 L1218.5 205.7 L1224.2 209.5 L1230.0 198.6 L1241.6 214.7 L1253.1 219.5 L1258.9 222.7 L1264.7 217.4 L1270.5 202.1 L1276.2 213.1 L1282.0 215.9 L1287.8 214.3 L1293.6 204.4 L1299.3 198.5 L1305.1 209.8 L1310.9 204.0 L1316.7 195.5 L1322.5 198.2 L1328.2 203.1 L1334.0 195.1 L1339.8 203.1 L1351.3 192.3 L1357.1 178.7 L1362.9 179.9 L1368.7 185.0 L1374.5 197.5 L1380.2 187.7 L1386.0 191.7 L1391.8 173.9 L1397.6 182.6 L1403.3 183.9 L1409.1 190.0 L1414.9 189.2 L1420.7 183.4 L1426.5 190.6 L1432.2 189.0 L1438.0 191.1 L1443.8 190.6 L1449.6 177.0 L1455.4 180.6 L1461.1 178.5 L1466.9 171.8 L1472.7 176.2 L1478.5 177.9 L1484.2 177.7 L1495.8 180.2 L1501.6 161.0 L1507.4 158.8 L1513.1 155.5 L1518.9 167.5 L1524.7 165.9 L1530.5 155.1 L1536.2 151.0 L1542.0 158.0 L1547.8 154.8 L1553.6 146.8 L1559.4 146.9 L1565.1 150.1 L1576.7 159.6 L1582.5 154.7 L1594.0 146.2 L1599.8 145.2 L1605.6 138.3 L1611.4 134.0 L1617.1 141.2 L1622.9 139.7 L1628.7 139.2 L1634.5 136.6 L1640.2 140.4 L1646.0 137.3 L1651.8 131.9 L1657.6 141.4 L1663.4 144.3 L1669.1 136.4 L1674.9 147.0 L1680.7 141.9 L1686.5 142.9 L1692.3 147.6 L1698.0 145.4 L1703.8 145.8 L1709.6 145.5 L1715.4 144.0 L1721.1 144.9 L1726.9 143.8 L1732.7 144.0 L1738.5 141.4 L1744.3 149.4 L1750.0 147.9 L1755.8 142.9 L1761.6 148.5 L1767.4 148.1 L1773.1 153.3 L1778.9 155.2 L1784.7 156.3 L1787.0 161.0 L1788.3 162.4 L1790.2 163.1 L1794.9 163.9 L1796.8 164.8 L1798.0 166.6 L1799.4 171.2 L1800.4 173.3 L1802.0 174.8 L1806.0 177.3 L1807.7 179.3 L1810.2 185.2 L1813.7 196.8 L1821.0 224.0 L1823.4 234.6 L1831.9 277.4 L1837.3 314.0 L1845.0 400.0 L1851.6 512.4 L1858.0 680.0 L1862.3 871.6 L1864.0 1050.0 L1864.6 1168.6 L1865.1 1186.4 L1865.9 1206.5 L1866.6 1215.3 L1867.7 1222.4 L1870.5 1234.2 L1871.6 1240.7 L1872.2 1248.2 L1873.4 1288.0 L1874.2 1304.3 L1875.8 1323.7 L1878.0 1342.4 L1880.7 1356.7 L1882.4 1362.7 L1884.4 1367.9 L1887.0 1371.8 L1893.1 1377.2 L1895.8 1380.6 L1897.8 1385.3 L1901.2 1396.1 L1903.4 1401.0 L1906.1 1405.3 L1909.1 1409.4 L1912.4 1413.1 L1916.0 1416.2 L1920.2 1418.7 L1934.0 1423.8 L1944.4 1428.7 L1949.2 1430.2 L1963.7 1432.9 L2006.4 1439.0"/>
<path d="M248.6 1451.0 L251.1 1385.8 L270.7 961.9 L295.7 466.5 L296.7 453.8 L304.4 370.5 L309.8 328.9 L313.2 309.2 L314.8 303.4 L316.4 299.5 L318.0 296.9 L323.1 290.2 L327.0 287.7 L330.2 286.9 L336.0 293.8 L341.8 297.8 L347.5 305.0 L353.3 325.6 L359.1 327.5 L364.8 326.6 L370.6 330.7 L376.4 330.8 L382.1 323.0 L387.9 330.7 L393.7 330.1 L399.4 320.2 L405.2 319.6 L411.0 313.7 L416.7 301.3 L422.5 298.6 L428.3 303.7 L445.6 288.6 L451.3 292.6 L457.1 281.5 L462.9 269.0 L468.6 275.3 L474.4 283.9 L480.1 269.4 L485.9 265.4 L491.7 263.8 L497.4 272.4 L503.2 260.5 L509.0 269.6 L514.7 277.8 L520.5 270.4 L526.3 255.7 L532.0 251.5 L543.6 245.2 L549.3 238.7 L555.1 252.6 L560.9 258.0 L566.6 241.5 L572.4 239.4 L578.2 246.5 L583.9 251.1 L589.7 248.2 L595.5 243.1 L607.0 252.3 L612.7 246.7 L618.5 244.2 L624.3 244.7 L630.0 238.2 L635.8 230.2 L641.6 219.9 L647.3 237.8 L653.1 238.4 L658.9 257.2 L664.6 241.6 L670.4 232.9 L676.2 225.3 L681.9 229.9 L687.7 238.5 L693.5 227.2 L699.2 221.5 L705.0 244.6 L710.8 241.8 L716.5 238.5 L722.3 238.9 L728.1 244.1 L733.8 223.5 L739.6 226.4 L745.4 224.9 L751.1 234.4 L756.9 223.5 L762.6 230.9 L768.4 242.8 L774.2 257.5 L779.9 241.1 L785.7 251.4 L791.5 259.1 L797.2 246.1 L803.0 256.0 L808.8 249.7 L814.5 241.2 L820.3 259.3 L826.1 255.9 L831.8 253.2 L837.6 233.8 L843.4 238.2 L849.1 235.0 L854.9 233.5 L860.7 239.7 L866.4 242.8 L872.2 255.5 L878.0 257.1 L883.7 256.8 L889.5 257.9 L895.2 247.4 L901.0 246.9 L906.8 251.0 L912.5 251.6 L918.3 256.2 L924.1 252.3 L929.8 261.7 L935.6 257.1 L941.4 248.7 L952.9 261.2 L958.7 260.9 L964.4 240.4 L970.2 261.3 L976.0 258.9 L981.7 255.8 L987.5 242.3 L993.3 239.8 L999.0 251.3 L1004.8 244.6 L1010.6 254.6 L1016.3 251.1 L1022.1 253.1 L1027.9 244.0 L1033.6 248.1 L1039.4 231.4 L1045.1 241.8 L1050.9 240.6 L1056.7 237.6 L1062.4 224.1 L1068.2 231.2 L1074.0 248.7 L1079.7 250.7 L1085.5 239.2 L1091.3 229.5 L1097.0 234.4 L1102.8 231.0 L1108.6 226.8 L1114.3 217.7 L1120.1 233.7 L1125.9 233.5 L1131.6 240.3 L1137.4 224.8 L1148.9 229.2 L1154.7 222.2 L1160.5 217.4 L1166.2 223.7 L1172.0 218.7 L1177.7 234.8 L1183.5 234.9 L1195.0 222.9 L1200.8 209.0 L1206.6 201.3 L1212.3 201.7 L1218.1 208.1 L1223.9 216.9 L1229.6 211.7 L1235.4 218.1 L1241.2 226.2 L1246.9 224.0 L1252.7 217.9 L1258.5 195.1 L1264.2 198.4 L1270.0 204.9 L1275.8 205.4 L1281.5 211.2 L1287.3 198.4 L1293.1 197.3 L1298.8 191.0 L1304.6 203.5 L1310.4 209.5 L1316.1 191.2 L1321.9 205.5 L1327.6 203.4 L1333.4 194.3 L1339.2 198.0 L1344.9 202.6 L1350.7 197.5 L1356.5 185.2 L1362.2 182.3 L1368.0 187.1 L1373.8 172.9 L1379.5 170.9 L1385.3 172.3 L1391.1 176.5 L1396.8 169.5 L1402.6 174.6 L1408.4 177.6 L1414.1 181.8 L1419.9 170.7 L1425.7 165.0 L1431.4 168.0 L1437.2 162.4 L1443.0 171.9 L1448.7 169.5 L1454.5 170.0 L1460.2 179.3 L1466.0 177.7 L1471.8 172.6 L1477.5 164.3 L1483.3 170.8 L1489.1 181.5 L1494.8 187.4 L1500.6 176.1 L1506.4 155.1 L1512.1 148.8 L1517.9 148.8 L1529.4 164.4 L1535.2 151.0 L1541.0 150.4 L1546.7 154.8 L1552.5 154.6 L1558.3 151.7 L1564.0 156.3 L1569.8 147.7 L1575.6 140.3 L1587.1 148.8 L1592.8 151.7 L1598.6 140.6 L1604.4 146.8 L1610.1 150.9 L1615.9 147.6 L1621.7 147.4 L1627.4 144.6 L1633.2 140.1 L1639.0 145.2 L1644.7 149.3 L1650.5 145.0 L1656.3 149.1 L1662.0 147.0 L1667.8 136.9 L1673.6 143.0 L1679.3 138.9 L1685.1 135.5 L1690.9 141.1 L1696.6 142.0 L1702.4 129.7 L1708.2 132.9 L1713.9 139.9 L1719.7 139.1 L1725.5 144.4 L1731.2 140.0 L1737.0 141.2 L1742.7 138.4 L1754.3 145.1 L1760.0 136.9 L1765.8 142.9 L1771.6 142.4 L1777.3 149.1 L1783.1 146.0 L1788.9 151.6 L1794.6 153.4 L1800.4 153.9 L1803.6 158.5 L1805.3 160.0 L1807.5 160.8 L1812.9 162.0 L1815.0 163.6 L1816.2 166.6 L1817.6 174.6 L1818.6 178.0 L1820.2 180.1 L1824.1 182.9 L1825.8 185.4 L1827.2 189.3 L1831.9 210.4 L1835.5 229.0 L1843.6 283.6 L1846.8 309.8 L1847.6 320.0 L1852.0 400.0 L1856.0 520.0 L1859.6 688.2 L1861.6 880.0 L1864.0 1202.6 L1865.3 1278.9 L1866.3 1305.1 L1867.8 1329.7 L1868.8 1337.9 L1870.0 1344.2 L1874.6 1360.4 L1885.3 1387.4 L1887.9 1393.3 L1890.7 1398.4 L1893.7 1402.3 L1896.9 1405.5 L1903.4 1411.0 L1913.2 1418.4 L1916.0 1421.3 L1918.3 1424.8 L1923.8 1436.5 L1932.7 1451.3"/>
<path d="M249.1 1451.0 L254.0 1392.2 L264.1 1178.5 L275.2 955.6 L287.9 707.9 L301.1 460.2 L307.9 397.0 L309.4 379.0 L311.3 365.3 L317.6 336.6 L323.6 314.5 L325.1 310.6 L327.6 305.4 L329.9 301.4 L331.7 299.4 L334.2 297.6 L337.2 296.8 L343.0 309.8 L348.7 325.7 L354.5 335.2 L360.3 337.9 L366.1 339.6 L371.8 338.9 L377.6 341.5 L383.4 342.0 L389.2 341.9 L395.0 339.4 L406.5 337.4 L412.3 335.5 L418.1 334.0 L423.8 333.1 L429.6 327.9 L435.4 320.0 L441.2 309.7 L446.9 306.2 L452.7 309.4 L458.5 305.5 L464.3 298.5 L470.0 304.8 L475.8 303.0 L481.6 286.9 L487.4 294.1 L493.2 302.1 L498.9 294.0 L504.7 283.9 L510.5 279.5 L516.3 283.9 L522.0 287.7 L527.8 280.9 L533.6 267.8 L539.4 278.9 L545.1 276.3 L550.9 265.0 L556.7 264.6 L568.3 277.6 L574.0 269.7 L579.8 268.4 L585.6 272.4 L591.4 265.9 L597.1 264.5 L602.9 271.8 L608.7 260.0 L614.5 263.9 L620.2 271.4 L626.0 268.8 L631.8 263.6 L637.6 264.5 L643.3 271.9 L649.1 260.9 L654.9 251.1 L660.7 262.2 L666.5 267.7 L672.2 263.2 L678.0 259.2 L683.8 261.3 L689.6 264.8 L695.3 264.2 L701.1 257.3 L706.9 251.7 L712.7 260.2 L718.4 267.8 L724.2 258.1 L735.8 264.7 L741.6 255.2 L747.3 256.5 L753.1 263.9 L758.9 268.2 L764.7 263.8 L770.4 261.8 L782.0 270.2 L787.8 268.3 L793.5 259.3 L799.3 269.3 L805.1 274.6 L810.9 262.3 L816.6 261.0 L822.4 265.8 L828.2 269.7 L834.0 261.6 L839.8 257.4 L845.5 266.5 L851.3 262.2 L857.1 256.7 L862.9 255.6 L868.6 267.4 L874.4 269.6 L880.2 261.6 L886.0 265.8 L891.7 272.0 L897.5 271.1 L903.3 265.4 L909.1 260.9 L914.8 268.7 L920.6 269.4 L926.4 266.1 L932.2 264.1 L938.0 270.0 L943.7 267.3 L949.5 261.5 L961.1 269.5 L966.8 265.7 L972.6 255.3 L978.4 256.4 L984.2 264.6 L989.9 268.6 L995.7 258.9 L1001.5 250.9 L1007.3 259.3 L1013.1 260.6 L1018.8 250.9 L1024.6 253.5 L1030.4 260.1 L1036.2 261.3 L1041.9 255.1 L1047.7 252.6 L1059.3 262.1 L1065.0 261.2 L1070.8 252.4 L1076.6 252.6 L1082.4 254.2 L1088.1 253.3 L1099.7 239.3 L1105.5 246.0 L1111.3 250.6 L1117.0 253.5 L1122.8 249.2 L1128.6 243.9 L1134.4 243.5 L1140.1 245.3 L1145.9 235.7 L1151.7 229.7 L1157.5 233.7 L1163.2 241.3 L1169.0 236.9 L1174.8 236.2 L1180.6 244.3 L1186.3 235.6 L1192.1 234.2 L1197.9 235.3 L1203.7 229.2 L1209.5 218.5 L1215.2 225.9 L1221.0 231.5 L1226.8 226.7 L1232.6 220.5 L1244.1 234.0 L1249.9 227.0 L1255.7 218.4 L1261.4 219.9 L1267.2 223.4 L1273.0 224.3 L1278.8 219.3 L1284.6 224.6 L1290.3 221.7 L1296.1 213.4 L1301.9 213.8 L1307.7 221.7 L1313.4 218.8 L1319.2 209.8 L1325.0 209.6 L1330.8 215.4 L1336.5 212.3 L1342.3 202.4 L1348.1 198.0 L1353.9 203.9 L1359.6 210.6 L1365.4 205.3 L1371.2 201.9 L1377.0 211.0 L1382.8 202.5 L1388.5 191.7 L1394.3 198.8 L1400.1 202.8 L1405.9 202.0 L1417.4 194.2 L1423.2 199.6 L1429.0 198.2 L1434.7 187.8 L1440.5 187.7 L1446.3 195.9 L1452.1 195.7 L1457.9 190.4 L1463.6 185.6 L1469.4 188.5 L1475.2 194.5 L1481.0 193.5 L1486.7 188.8 L1492.5 188.3 L1498.3 195.9 L1504.1 188.7 L1509.8 185.5 L1515.6 187.8 L1521.4 180.9 L1527.2 171.2 L1532.9 174.1 L1538.7 179.1 L1550.3 166.5 L1556.1 166.1 L1561.8 169.9 L1573.4 163.5 L1579.2 165.6 L1584.9 163.5 L1590.7 154.3 L1596.5 161.8 L1602.3 162.2 L1608.0 157.6 L1613.8 154.4 L1619.6 157.3 L1625.4 161.3 L1631.1 156.3 L1636.9 153.0 L1642.7 157.5 L1648.5 153.8 L1654.3 147.8 L1665.8 156.1 L1671.6 154.4 L1677.4 151.2 L1683.1 150.8 L1688.9 152.6 L1694.7 155.0 L1706.2 148.9 L1712.0 152.4 L1717.8 153.7 L1729.4 149.9 L1740.9 154.7 L1746.7 152.8 L1752.5 149.0 L1758.2 150.3 L1764.0 155.0 L1769.8 156.1 L1775.6 153.1 L1787.1 159.9 L1792.9 158.2 L1798.7 158.1 L1804.4 158.8 L1810.2 158.2 L1816.0 157.0 L1820.0 158.8 L1821.7 160.0 L1829.5 168.4 L1831.4 169.5 L1835.1 170.7 L1836.7 172.0 L1838.1 174.0 L1840.4 179.3 L1842.8 187.8 L1846.4 204.7 L1849.8 218.5 L1852.8 227.4 L1858.5 241.0 L1862.3 252.8 L1865.8 265.3 L1875.3 311.6 L1876.7 320.0 L1877.7 329.3 L1884.0 408.2 L1889.0 520.0 L1893.5 680.0 L1896.5 880.0 L1898.3 1050.0 L1898.3 1426.3 L1899.2 1433.1 L1900.9 1436.5 L1902.2 1438.0 L1903.7 1439.0 L1907.2 1440.3 L1909.4 1440.6 L1916.0 1440.3"/>
<path d="M248.8 1451.0 L251.8 1392.2 L261.6 1178.5 L272.3 955.6 L297.3 466.5 L298.2 453.9 L306.1 371.1 L310.3 343.0 L314.1 321.0 L317.5 306.1 L319.0 301.3 L321.9 294.4 L324.3 289.4 L326.3 286.8 L329.0 284.6 L332.1 283.6 L337.9 289.5 L343.6 294.2 L349.4 296.4 L355.2 299.5 L361.0 313.3 L366.7 311.8 L372.5 315.8 L378.3 327.8 L384.1 315.7 L389.8 316.4 L395.6 310.8 L401.4 309.6 L407.2 321.2 L412.9 314.9 L418.7 301.8 L424.5 311.3 L430.3 305.0 L436.0 296.7 L441.8 296.9 L447.6 279.4 L453.4 289.8 L459.1 274.7 L464.9 279.3 L470.7 270.1 L476.5 288.7 L482.2 273.6 L488.0 262.3 L493.8 267.7 L499.6 256.0 L505.3 247.8 L511.1 251.5 L516.9 248.9 L522.7 249.9 L534.2 243.1 L540.0 243.3 L545.8 259.3 L551.5 242.6 L557.3 244.8 L563.1 253.7 L568.9 240.0 L574.6 239.7 L580.4 260.7 L586.2 248.4 L592.0 233.5 L603.5 231.3 L609.3 228.5 L615.1 238.0 L620.8 230.5 L626.6 223.6 L632.4 223.7 L638.2 222.0 L643.9 225.2 L649.7 220.6 L655.5 219.2 L661.3 218.2 L667.0 224.6 L672.8 225.0 L678.6 219.0 L684.4 218.7 L690.1 222.4 L695.9 218.4 L701.7 224.4 L707.5 224.5 L713.2 220.4 L719.0 228.5 L724.8 230.9 L730.6 230.6 L736.3 226.4 L742.1 229.7 L747.9 221.9 L753.7 224.8 L759.4 224.2 L765.2 228.1 L771.0 230.5 L776.8 224.7 L782.5 230.4 L788.3 242.8 L794.1 236.4 L799.9 234.2 L805.6 233.2 L811.4 253.9 L817.2 241.2 L823.0 236.9 L834.5 227.4 L846.1 243.4 L851.8 227.0 L857.6 230.1 L863.4 230.4 L869.2 237.3 L874.9 237.9 L880.7 242.3 L886.5 239.1 L892.3 243.8 L898.0 253.5 L903.8 244.4 L915.4 260.3 L921.1 252.9 L926.9 260.0 L932.7 255.1 L938.5 236.2 L944.2 248.7 L950.0 232.2 L955.8 234.9 L961.6 235.4 L967.3 230.5 L973.1 233.6 L978.9 239.3 L984.7 246.5 L990.4 238.8 L996.2 247.0 L1002.0 250.2 L1007.8 254.8 L1013.5 253.9 L1019.3 233.2 L1025.1 228.2 L1030.9 225.9 L1036.6 225.6 L1042.4 236.9 L1048.2 226.1 L1054.0 229.7 L1059.7 240.2 L1065.5 231.6 L1071.3 236.4 L1077.1 234.1 L1082.8 222.2 L1088.6 218.6 L1100.1 232.5 L1105.9 224.5 L1111.7 227.2 L1117.5 221.9 L1123.2 223.4 L1129.0 222.3 L1134.8 216.6 L1140.6 218.5 L1146.3 217.8 L1152.1 207.7 L1157.9 207.5 L1163.7 207.7 L1169.4 209.0 L1175.2 207.2 L1181.0 207.9 L1186.8 204.8 L1192.5 214.1 L1198.3 202.4 L1204.1 199.4 L1209.9 202.3 L1215.6 203.1 L1221.4 198.7 L1227.2 199.2 L1233.0 196.3 L1238.7 196.8 L1244.5 202.8 L1250.3 199.3 L1256.1 205.6 L1261.8 193.8 L1267.6 193.9 L1273.4 203.9 L1279.2 196.7 L1284.9 197.9 L1290.7 193.7 L1296.5 193.0 L1302.3 189.5 L1308.0 187.2 L1313.8 188.3 L1319.6 202.5 L1325.4 201.2 L1331.1 205.3 L1336.9 193.6 L1342.7 196.7 L1348.5 200.8 L1354.2 187.7 L1360.0 203.6 L1365.8 197.4 L1371.6 194.3 L1383.1 182.7 L1388.9 188.5 L1394.7 184.9 L1400.4 193.1 L1406.2 195.3 L1412.0 190.1 L1417.8 188.0 L1423.5 193.9 L1429.3 189.9 L1435.1 187.6 L1440.9 187.7 L1446.6 165.6 L1452.4 169.2 L1458.2 180.2 L1464.0 182.0 L1469.7 169.5 L1475.5 186.9 L1481.3 177.2 L1487.1 165.5 L1492.8 171.2 L1498.6 169.5 L1504.4 181.4 L1510.2 171.1 L1515.9 166.4 L1521.7 152.5 L1527.5 160.1 L1533.3 169.8 L1539.0 156.7 L1544.8 162.3 L1550.6 156.1 L1556.4 155.6 L1562.1 150.4 L1567.9 141.7 L1573.7 144.7 L1579.5 144.3 L1585.2 146.1 L1591.0 138.6 L1596.8 139.2 L1602.6 136.6 L1608.3 140.2 L1614.1 136.4 L1619.9 130.2 L1625.7 129.6 L1631.4 129.7 L1637.2 128.7 L1643.0 126.4 L1648.8 127.3 L1654.5 126.9 L1660.3 125.1 L1666.1 125.6 L1671.9 127.6 L1677.6 127.3 L1683.4 127.9 L1689.2 125.5 L1695.0 128.1 L1700.7 126.3 L1706.5 123.8 L1712.3 127.3 L1718.1 126.8 L1723.8 133.1 L1729.6 128.7 L1735.4 129.2 L1741.2 138.3 L1746.9 143.9 L1752.7 141.5 L1758.5 150.6 L1764.3 140.7 L1770.0 141.9 L1775.8 142.1 L1781.6 148.2 L1787.4 147.8 L1793.1 146.9 L1798.9 147.7 L1804.7 152.5 L1810.5 156.7 L1816.2 157.7 L1822.0 158.0 L1832.0 166.4 L1840.7 174.2 L1843.3 178.0 L1845.5 182.8 L1847.4 190.1 L1850.0 204.7 L1853.6 218.5 L1856.6 227.4 L1860.2 236.1 L1863.7 246.6 L1869.9 271.2 L1878.9 311.6 L1880.3 320.0 L1881.3 329.3 L1887.0 408.2 L1892.0 520.0 L1896.3 671.9 L1899.6 888.5 L1900.9 1050.0 L1901.4 1202.6 L1903.0 1268.5 L1904.2 1291.3 L1906.2 1318.5 L1908.9 1343.9 L1911.0 1355.0 L1914.6 1368.1 L1920.7 1386.3 L1926.3 1401.0 L1928.9 1408.7 L1930.1 1411.0 L1934.1 1416.2 L1939.0 1421.3 L1948.3 1427.5 L1950.5 1430.2 L1951.6 1434.2 L1951.8 1439.0 L1951.7 1446.7"/>
<path d="M248.4 1451.0 L249.2 1392.2 L258.8 1172.2 L269.0 949.4 L293.1 466.6 L300.6 376.2 L303.1 350.8 L312.1 271.6 L313.6 264.2 L314.9 260.8 L315.7 259.7 L316.4 259.2 L322.1 262.9 L333.7 268.7 L339.4 268.3 L345.2 267.0 L356.7 284.0 L362.5 282.4 L368.3 283.5 L374.0 287.1 L379.8 291.7 L385.5 287.6 L391.3 289.0 L397.1 286.8 L402.8 283.7 L408.6 273.2 L414.4 272.7 L420.1 273.3 L425.9 273.4 L431.7 276.3 L437.4 268.0 L443.2 263.8 L448.9 261.0 L454.7 261.1 L460.5 257.0 L466.2 255.0 L472.0 258.1 L477.8 255.5 L483.5 248.1 L489.3 248.4 L495.1 244.3 L500.8 240.8 L506.6 241.7 L512.3 245.1 L518.1 236.5 L523.9 240.7 L529.6 239.1 L535.4 232.5 L541.2 238.5 L546.9 238.2 L552.7 228.2 L558.5 227.6 L564.2 231.0 L570.0 224.4 L575.8 226.6 L581.5 223.9 L593.0 219.2 L598.8 223.7 L604.6 222.3 L610.3 225.7 L621.9 215.8 L627.6 212.3 L633.4 211.2 L639.2 215.1 L644.9 218.3 L650.7 208.9 L668.0 206.9 L679.5 207.1 L685.3 207.8 L691.0 214.4 L696.8 212.1 L702.6 216.1 L708.3 216.7 L714.1 211.0 L719.9 218.4 L725.6 215.2 L731.4 213.9 L737.1 213.5 L748.7 220.1 L754.4 216.6 L760.2 210.7 L766.0 214.8 L771.7 221.5 L777.5 221.9 L783.3 213.7 L789.0 214.5 L794.8 214.2 L806.3 216.5 L812.1 216.2 L817.8 216.4 L823.6 219.9 L829.4 216.6 L835.1 220.1 L840.9 216.9 L846.7 220.3 L852.4 223.0 L858.2 225.0 L863.9 225.1 L869.7 227.6 L881.2 230.1 L887.0 230.5 L892.8 234.6 L898.5 232.8 L904.3 232.0 L910.1 234.6 L915.8 231.7 L921.6 229.4 L927.4 226.3 L933.1 225.1 L938.9 226.7 L944.6 230.6 L950.4 230.1 L956.2 224.5 L961.9 219.6 L967.7 218.6 L973.5 218.1 L979.2 222.9 L985.0 217.6 L990.8 215.9 L996.5 215.7 L1002.3 224.5 L1013.8 223.8 L1019.6 219.9 L1025.3 220.2 L1031.1 222.3 L1036.9 222.8 L1042.6 221.1 L1048.4 218.2 L1054.2 213.9 L1059.9 213.7 L1065.7 219.3 L1071.5 218.4 L1077.2 213.2 L1083.0 213.2 L1088.7 211.6 L1094.5 216.9 L1100.3 214.7 L1106.0 215.8 L1111.8 214.9 L1117.6 210.9 L1123.3 208.1 L1134.9 204.9 L1140.6 208.8 L1146.4 200.7 L1152.1 199.9 L1157.9 201.4 L1169.4 198.0 L1175.2 196.6 L1186.7 195.1 L1192.5 197.2 L1198.3 193.3 L1204.0 197.2 L1209.8 191.9 L1215.6 191.6 L1221.3 190.4 L1227.1 194.3 L1232.8 187.6 L1238.6 186.1 L1244.4 186.0 L1255.9 188.6 L1261.7 185.4 L1267.4 187.3 L1273.2 185.4 L1284.7 183.6 L1296.2 185.7 L1302.0 185.2 L1307.8 180.1 L1313.5 179.9 L1319.3 182.3 L1325.1 177.7 L1330.8 177.2 L1336.6 175.4 L1342.4 172.1 L1348.1 170.6 L1353.9 167.8 L1359.6 165.9 L1365.4 165.8 L1371.2 161.9 L1376.9 163.9 L1382.7 161.6 L1388.5 163.5 L1394.2 163.0 L1400.0 160.0 L1405.8 155.9 L1411.5 158.1 L1417.3 153.0 L1428.8 151.1 L1434.6 153.5 L1440.3 154.9 L1446.1 150.2 L1451.9 147.3 L1463.4 145.5 L1486.5 140.7 L1498.0 137.4 L1503.7 132.6 L1509.5 124.6 L1515.3 121.9 L1521.0 126.6 L1526.8 123.5 L1532.6 131.6 L1538.3 138.5 L1549.9 124.8 L1555.6 119.3 L1572.9 120.0 L1578.7 115.0 L1584.4 112.9 L1590.2 114.9 L1596.0 106.4 L1601.7 107.9 L1607.5 103.1 L1613.3 94.1 L1619.0 94.7 L1624.8 98.3 L1630.6 95.6 L1636.3 89.9 L1642.1 92.9 L1647.8 104.2 L1653.6 112.1 L1670.9 89.1 L1676.7 85.0 L1682.4 84.3 L1688.2 88.8 L1694.0 87.3 L1705.5 82.3 L1711.2 80.3 L1717.0 79.9 L1722.8 85.6 L1728.5 84.7 L1734.3 84.9 L1740.1 89.0 L1745.8 94.4 L1751.6 101.5 L1757.4 116.3 L1768.9 95.7 L1774.7 88.5 L1780.4 97.0 L1786.2 99.2 L1791.9 106.5 L1803.5 130.7 L1809.2 140.4 L1815.0 144.2 L1822.8 161.0 L1824.6 163.6 L1826.8 165.4 L1829.4 166.6 L1834.3 168.4 L1839.9 169.7 L1841.6 170.8 L1843.2 172.7 L1846.3 177.7 L1848.6 183.3 L1851.2 192.6 L1859.8 218.8 L1865.8 241.0 L1871.8 259.0 L1874.4 268.2 L1877.7 281.8 L1882.2 306.4 L1884.0 320.0 L1884.8 328.9 L1890.0 400.0 L1895.2 527.9 L1899.1 688.2 L1903.4 1050.0 L1908.0 1217.6 L1910.2 1254.2 L1913.1 1287.0 L1914.8 1298.5 L1917.6 1310.9 L1919.5 1317.8 L1921.6 1324.2 L1923.8 1329.7 L1926.1 1333.7 L1928.4 1336.7 L1949.2 1357.7 L1958.4 1368.9 L1961.9 1371.7 L1965.9 1373.6 L1979.7 1376.8 L1994.9 1381.2 L2010.4 1387.2 L2020.4 1392.0 L2024.9 1394.6 L2038.2 1403.5 L2054.6 1415.1 L2061.0 1418.7 L2068.3 1421.9 L2091.6 1430.2 L2112.0 1439.0 L2129.7 1445.4"/>
</g>
<g font-family="'Liberation Sans', Arial, Helvetica, sans-serif">
<text transform="translate(247.0 1533.0) scale(1 1.05)" font-size="58.33" text-anchor="middle" fill="#262626">0</text>
<text transform="translate(478.2 1533.0) scale(1 1.05)" font-size="58.33" text-anchor="middle" fill="#262626">50</text>
<text transform="translate(709.5 1533.0) scale(1 1.05)" font-size="58.33" text-anchor="middle" fill="#262626">100</text>
<text transform="translate(940.8 1533.0) scale(1 1.05)" font-size="58.33" text-anchor="middle" fill="#262626">150</text>
<text transform="translate(1172.0 1533.0) scale(1 1.05)" font-size="58.33" text-anchor="middle" fill="#262626">200</text>
<text transform="translate(1403.2 1533.0) scale(1 1.05)" font-size="58.33" text-anchor="middle" fill="#262626">250</text>
<text transform="translate(1634.5 1533.0) scale(1 1.05)" font-size="58.33" text-anchor="middle" fill="#262626">300</text>
<text transform="translate(1865.8 1533.0) scale(1 1.05)" font-size="58.33" text-anchor="middle" fill="#262626">350</text>
<text transform="translate(2097.0 1533.0) scale(1 1.05)" font-size="58.33" text-anchor="middle" fill="#262626">400</text>
<text transform="translate(226 1475.8) scale(1 1.05)" font-size="58.33" text-anchor="end" fill="#262626">0</text>
<text transform="translate(226 1310.7) scale(1 1.05)" font-size="58.33" text-anchor="end" fill="#262626">2</text>
<text transform="translate(226 1145.5) scale(1 1.05)" font-size="58.33" text-anchor="end" fill="#262626">4</text>
<text transform="translate(226 980.4) scale(1 1.05)" font-size="58.33" text-anchor="end" fill="#262626">6</text>
<text transform="translate(226 815.3) scale(1 1.05)" font-size="58.33" text-anchor="end" fill="#262626">8</text>
<text transform="translate(226 650.2) scale(1 1.05)" font-size="58.33" text-anchor="end" fill="#262626">10</text>
<text transform="translate(226 485.1) scale(1 1.05)" font-size="58.33" text-anchor="end" fill="#262626">12</text>
<text transform="translate(226 319.9) scale(1 1.05)" font-size="58.33" text-anchor="end" fill="#262626">14</text>
<text transform="translate(226 154.8) scale(1 1.05)" font-size="58.33" text-anchor="end" fill="#262626">16</text>
<text transform="translate(1218.5 1616.7)" font-size="66.3" text-anchor="middle" fill="#262626">Engineering strain [%]</text>
<text transform="translate(131 749.5) rotate(-90)" font-size="66.3" text-anchor="middle" fill="#262626">Engineering stress [MPa]</text>
<text transform="translate(955.5 840.7) scale(1 1.02)" font-size="58.33" text-anchor="start" fill="#000" textLength="590.5" lengthAdjust="spacing">250 kGy (10 samples)</text>
<text transform="translate(1022 918.2) scale(1 1.02)" font-size="58.33" text-anchor="start" fill="#000" textLength="524" lengthAdjust="spacing">0 kGy (10 samples)</text>
</g>
<path d="M814 817 H930" stroke="#0000ff" stroke-width="6" stroke-dasharray="19 17.5" fill="none"/>
<path d="M814 894 H930" stroke="#000" stroke-width="6" fill="none"/>
<path d="M757 816.5 H795" stroke="#0000ff" stroke-width="8.4" fill="none"/>
<path d="M717.8 817.2 L765 793 L757.8 817.2 L765.8 840.8 Z" fill="#0000ff"/>
<path d="M1560.2 906 H1596" stroke="#000" stroke-width="8.3" fill="none"/>
<path d="M1634.8 906 L1587.8 882 L1596 906 L1587.8 930 Z" fill="#000"/>
</svg>
</body></html>
